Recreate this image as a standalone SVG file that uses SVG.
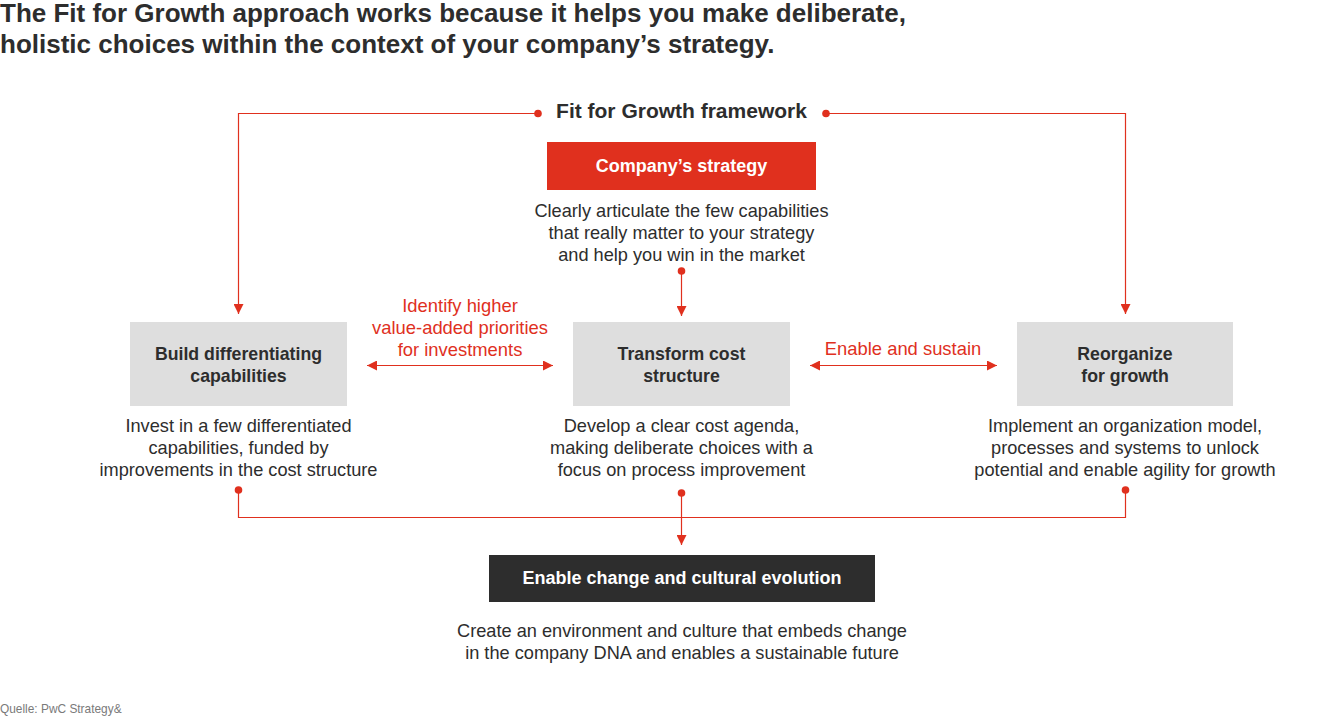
<svg xmlns="http://www.w3.org/2000/svg" width="1340" height="717" viewBox="0 0 1340 717">
<style>
text{font-family:"Liberation Sans",Arial,sans-serif;fill:#2d2d2d}
.title{font-size:26px;font-weight:bold}
.b{font-size:17.7px;font-weight:bold;text-anchor:middle}
.w{fill:#ffffff;font-size:18px}
.d{font-size:18.2px;text-anchor:middle}
.r{fill:#e0301e;font-size:18.4px}
.ln{stroke:#e0301e;stroke-width:1.2;fill:none}
.dot{fill:#e0301e}
.src{font-size:11.9px;fill:#7a7a7a}
</style>
<defs>
<marker id="ah" viewBox="0 0 10 10" refX="10" refY="5" markerWidth="10" markerHeight="10" markerUnits="userSpaceOnUse" orient="auto-start-reverse">
<path d="M0,0 L10,5 L0,10 Z" fill="#e0301e"/>
</marker>
</defs>
<rect width="1340" height="717" fill="#ffffff"/>
<g id="title">
<text class="title" x="0" y="22">The Fit for Growth approach works because it helps you make deliberate,</text>
<text class="title" x="0" y="53">holistic choices within the context of your company’s strategy.</text>
</g>
<g id="connectors">
<polyline class="ln" points="538,113.5 238.5,113.5 238.5,314" marker-end="url(#ah)"/>
<polyline class="ln" points="826,113.5 1125.5,113.5 1125.5,314" marker-end="url(#ah)"/>
<line class="ln" x1="681.5" y1="271" x2="681.5" y2="316" marker-end="url(#ah)"/>
<line class="ln" x1="367" y1="365.5" x2="553" y2="365.5" marker-start="url(#ah)" marker-end="url(#ah)"/>
<line class="ln" x1="810" y1="365.5" x2="997" y2="365.5" marker-start="url(#ah)" marker-end="url(#ah)"/>
<polyline class="ln" points="238.5,490 238.5,517.5 1125.5,517.5 1125.5,490"/>
<line class="ln" x1="681.5" y1="493" x2="681.5" y2="545" marker-end="url(#ah)"/>
<circle class="dot" cx="538" cy="113.5" r="3.8"/>
<circle class="dot" cx="826" cy="113.5" r="3.8"/>
<circle class="dot" cx="681.5" cy="271" r="3.8"/>
<circle class="dot" cx="238.5" cy="490" r="3.8"/>
<circle class="dot" cx="681.5" cy="493" r="3.8"/>
<circle class="dot" cx="1125.5" cy="490" r="3.8"/>
<text class="d r" x="460" y="312">Identify higher</text>
<text class="d r" x="460" y="334">value-added priorities</text>
<text class="d r" x="460" y="356">for investments</text>
<text class="d r" x="903" y="355">Enable and sustain</text>
</g>
<g id="framework">
<text x="681.5" y="118" style="font-size:21px;font-weight:bold;text-anchor:middle">Fit for Growth framework</text>
</g>
<g id="strategy">
<rect x="547" y="142" width="269" height="48" fill="#e0301e"/>
<text class="b w" x="681.5" y="172">Company’s strategy</text>
<text class="d" x="681.5" y="217">Clearly articulate the few capabilities</text>
<text class="d" x="681.5" y="239">that really matter to your strategy</text>
<text class="d" x="681.5" y="261">and help you win in the market</text>
</g>
<g id="build">
<rect x="130" y="322" width="217" height="84" fill="#dedede"/>
<text class="b" x="238.5" y="360">Build differentiating</text>
<text class="b" x="238.5" y="382">capabilities</text>
<text class="d" x="238.5" y="432">Invest in a few differentiated</text>
<text class="d" x="238.5" y="454">capabilities, funded by</text>
<text class="d" x="238.5" y="476">improvements in the cost structure</text>
</g>
<g id="transform">
<rect x="573" y="322" width="217" height="84" fill="#dedede"/>
<text class="b" x="681.5" y="360">Transform cost</text>
<text class="b" x="681.5" y="382">structure</text>
<text class="d" x="681.5" y="432">Develop a clear cost agenda,</text>
<text class="d" x="681.5" y="454">making deliberate choices with a</text>
<text class="d" x="681.5" y="476">focus on process improvement</text>
</g>
<g id="reorganize">
<rect x="1017" y="322" width="216" height="84" fill="#dedede"/>
<text class="b" x="1125" y="360">Reorganize</text>
<text class="b" x="1125" y="382">for growth</text>
<text class="d" x="1125" y="432">Implement an organization model,</text>
<text class="d" x="1125" y="454">processes and systems to unlock</text>
<text class="d" x="1125" y="476">potential and enable agility for growth</text>
</g>
<g id="enable">
<rect x="489" y="555" width="386" height="47" fill="#2d2d2d"/>
<text class="b w" x="682" y="584">Enable change and cultural evolution</text>
<text class="d" x="682" y="637">Create an environment and culture that embeds change</text>
<text class="d" x="682" y="659">in the company DNA and enables a sustainable future</text>
</g>
<g id="source">
<text class="src" x="0" y="713">Quelle: PwC Strategy&amp;</text>
</g>
</svg>
